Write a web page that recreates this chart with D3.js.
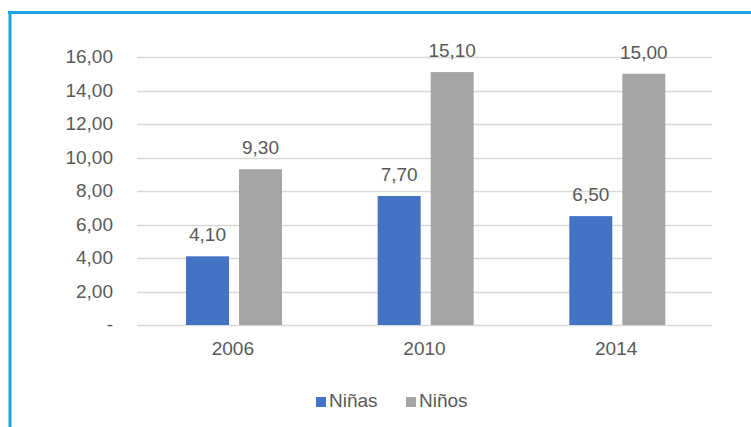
<!DOCTYPE html>
<html><head><meta charset="utf-8">
<script src="https://cdn.jsdelivr.net/npm/d3@7"></script>
<style>body{margin:0;background:#fff}svg{display:block}</style>
</head><body>
<script>
const categories = ["2006", "2010", "2014"];
const seriesNames = ["Niñas", "Niños"];
const ninas = [4.10, 7.70, 6.50];
const ninos = [9.30, 15.10, 15.00];
const yTicks = [0, 2, 4, 6, 8, 10, 12, 14, 16];
const colors = ["#4472C4", "#A5A5A5"];

const W = 751, H = 427;
const svg = d3.select("body").append("svg").attr("width", W).attr("height", H);
const font = "Liberation Sans, Arial, sans-serif";
const txt = "#595959";

// frame
svg.append("line").attr("x1", 8).attr("x2", W).attr("y1", 12.5).attr("y2", 12.5)
  .attr("stroke", "#1DA1E2").attr("stroke-width", 3);
svg.append("line").attr("x1", 10).attr("x2", 10).attr("y1", 11).attr("y2", H)
  .attr("stroke", "#1DA1E2").attr("stroke-width", 3);

const x0 = d3.scaleBand().domain(categories).range([137, 712]).paddingInner(0).paddingOuter(0);
const x1 = d3.scaleBand().domain(seriesNames).range([49, 145]).paddingInner(0.1887).paddingOuter(0);
const y = d3.scaleLinear().domain([0, 16]).range([325, 57]);

const fmt = v => v === 0 ? "-" : d3.format(".2f")(v).replace(".", ",");

// gridlines
svg.append("g").selectAll("line").data(yTicks).join("line")
  .attr("x1", 137).attr("x2", 712)
  .attr("y1", d => Math.round(y(d)) + 0.5).attr("y2", d => Math.round(y(d)) + 0.5)
  .attr("stroke", "#D9D9D9").attr("stroke-width", 1.3);

// y axis labels
const yAxis = d3.axisLeft(y).tickValues(yTicks).tickFormat(fmt).tickSize(0).tickPadding(0);
const gy = svg.append("g").attr("transform", "translate(113,0)").call(yAxis);
gy.select(".domain").remove();
gy.selectAll("text").attr("font-family", font).attr("font-size", 19).attr("fill", txt).attr("dy", "0.3em");

// x axis labels
const xAxis = d3.axisBottom(x0).tickSize(0).tickPadding(0);
const gx = svg.append("g").attr("transform", "translate(0,341)").call(xAxis);
gx.select(".domain").remove();
gx.selectAll("text").attr("font-family", font).attr("font-size", 19).attr("fill", txt).attr("dy", "0.75em");

const rows = categories.map((c, i) => ({c, vals: [ninas[i], ninos[i]]}));
const groups = svg.append("g").selectAll("g").data(rows).join("g")
  .attr("transform", d => `translate(${x0(d.c)},0)`);
groups.selectAll("rect").data(d => d.vals.map((v, j) => ({v, s: seriesNames[j], j}))).join("rect")
  .attr("x", d => x1(d.s)).attr("width", x1.bandwidth())
  .attr("y", d => y(d.v)).attr("height", d => y(0) - y(d.v))
  .attr("fill", d => colors[d.j]);
groups.selectAll("text").data(d => d.vals.map((v, j) => ({v, s: seriesNames[j], j}))).join("text")
  .attr("x", d => x1(d.s) + x1.bandwidth() / 2).attr("y", d => y(d.v) - 15)
  .attr("text-anchor", "middle").attr("font-family", font).attr("font-size", 19).attr("fill", txt)
  .text(d => fmt(d.v));

// legend
const legend = svg.append("g");
const legX = [316, 406];
seriesNames.forEach((s, i) => {
  legend.append("rect").attr("x", legX[i]).attr("y", 397).attr("width", 10).attr("height", 10).attr("fill", colors[i]);
  legend.append("text").attr("x", legX[i] + 13).attr("y", 407).attr("font-family", font)
    .attr("font-size", 19).attr("fill", txt).text(s);
});
</script>
</body></html>
